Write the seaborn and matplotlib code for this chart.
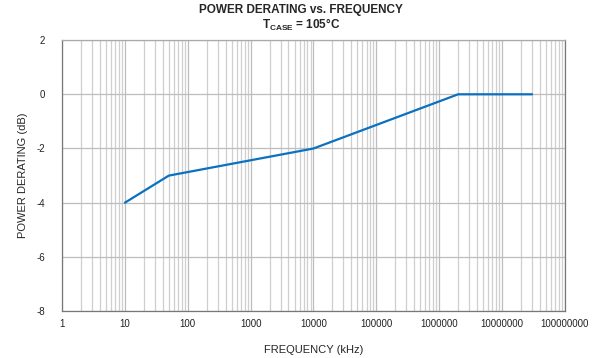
import matplotlib
matplotlib.use('Agg')
import matplotlib.pyplot as plt
import numpy as np
import pandas as pd
import seaborn as sns
from matplotlib.ticker import LogLocator, NullFormatter

# derating curve (frequency in kHz, derating in dB)
freq_khz = [10, 50, 10000, 2000000, 30000000]
derating_db = [-4, -3, -2, 0, 0]

x_ticks = [1, 10, 100, 1000, 10000, 100000, 1000000, 10000000, 100000000]
x_tick_labels = ['1', '10', '100', '1000', '10000', '100000', '1000000', '10000000', '100000000']
y_ticks = [-8, -6, -4, -2, 0, 2]

df = pd.DataFrame({'freq': freq_khz, 'db': derating_db})

sns.set_style('white')
plt.rcParams['font.family'] = ['Liberation Sans', 'DejaVu Sans']
plt.rcParams['axes.unicode_minus'] = False
plt.rcParams['mathtext.fontset'] = 'custom'
plt.rcParams['mathtext.rm'] = 'Liberation Sans'
plt.rcParams['mathtext.bf'] = 'Liberation Sans:bold'

fig = plt.figure(figsize=(6.02, 3.58), dpi=100)
ax = fig.add_axes([0.103, 0.131, 0.8355, 0.757])

sns.lineplot(data=df, x='freq', y='db', ax=ax, color='#0a70c0', linewidth=1.6)

ax.set_xscale('log')
ax.set_xlim(1, 1e8)
ax.set_ylim(-8, 2)
ax.set_xticks(x_ticks)
ax.set_xticklabels(x_tick_labels)
ax.xaxis.set_minor_locator(LogLocator(base=10, subs=np.arange(2, 10), numticks=100))
ax.xaxis.set_minor_formatter(NullFormatter())
ax.set_yticks(y_ticks)

ax.grid(True, which='major', color='#bdbdbd', linewidth=0.9)
ax.grid(True, which='minor', axis='x', color='#cfcfcf', linewidth=0.9)
ax.set_axisbelow(True)

for side in ['left', 'bottom', 'right', 'top']:
    ax.spines[side].set_visible(True)
    ax.spines[side].set_linewidth(0.9)
ax.spines['left'].set_color('#777777')
ax.spines['bottom'].set_color('#777777')
ax.spines['right'].set_color('#777777')
ax.spines['top'].set_color('#aaaaaa')

ax.tick_params(axis='both', which='both', length=0, labelsize=7, colors='#222222', pad=6)
ax.tick_params(axis='y', pad=12)

ax.set_xlabel('FREQUENCY (kHz)', fontsize=8, labelpad=11)
ax.set_ylabel('POWER DERATING (dB)', fontsize=8, labelpad=6)

# title with subscript
fig.text(0.5, 0.972, 'POWER DERATING vs. FREQUENCY', ha='center', va='center',
         fontsize=8.5, fontweight='bold')
fig.text(0.5, 0.93, r'$\mathbf{T_{CASE}}$ = 105°C', ha='center', va='center',
         fontsize=8.5, fontweight='bold')

fig.savefig('out.png', dpi=100)
